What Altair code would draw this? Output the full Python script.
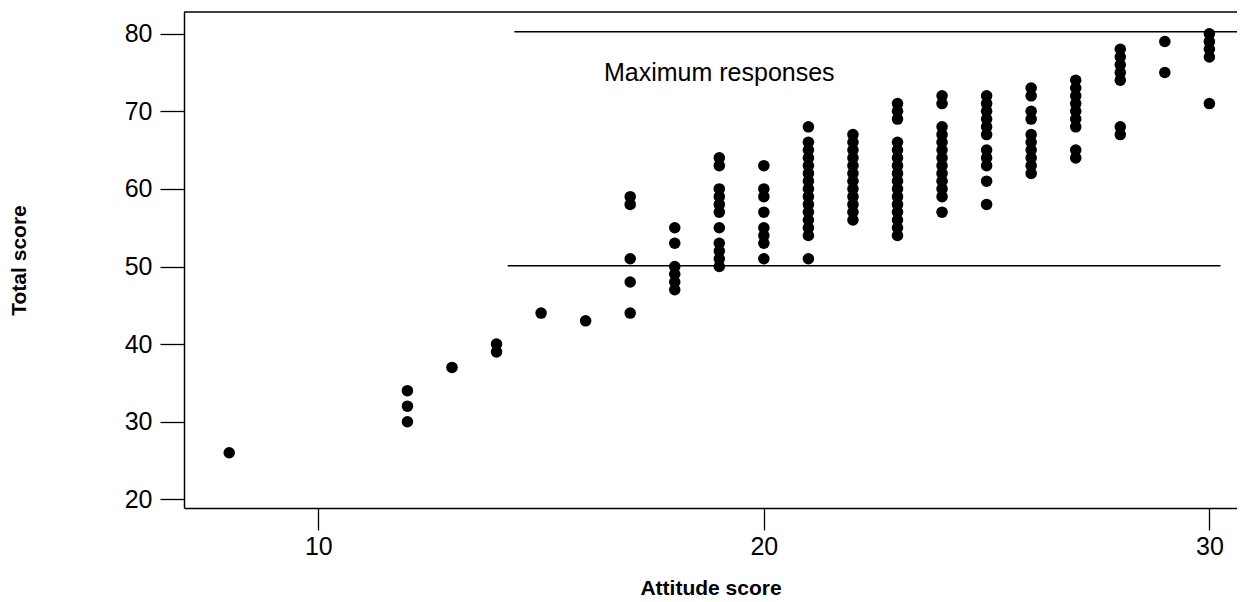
import altair as alt
import pandas as pd

# Attitude score columns and the total scores observed at each one
attitude_levels = [8, 12, 13, 14, 15, 16, 17, 18, 19, 20, 21, 22, 23, 24, 25, 26, 27, 28, 29, 30]
total_scores = [
    [26],
    [34, 32, 30],
    [37],
    [40, 39],
    [44],
    [43],
    [59, 58, 51, 48, 44],
    [55, 53, 50, 49, 48, 47],
    [64, 63, 60, 59, 58, 57, 55, 53, 52, 51, 50],
    [63, 60, 59, 57, 55, 54, 53, 51],
    [68, 66, 65, 64, 63, 62, 61, 60, 59, 58, 57, 56, 55, 54, 51],
    [67, 66, 65, 64, 63, 62, 61, 60, 59, 58, 57, 56],
    [71, 70, 69, 66, 65, 64, 63, 62, 61, 60, 59, 58, 57, 56, 55, 54],
    [72, 71, 68, 67, 66, 65, 64, 63, 62, 61, 60, 59, 57],
    [72, 71, 70, 69, 68, 67, 65, 64, 63, 61, 58],
    [73, 72, 70, 69, 67, 66, 65, 64, 63, 62],
    [74, 73, 72, 71, 70, 69, 68, 65, 64],
    [78, 77, 76, 75, 74, 68, 67],
    [79, 75],
    [80, 79, 78, 77, 71],
]

# Reference lines
ref_y = [80.25, 50.1]
ref_x_start = [14.4, 14.25]
ref_x_end = [30.62, 30.25]

# Annotation
note_text = ["Maximum responses"]
note_x = [19]
note_y = [75]

x_ticks = [10, 20, 30]
y_ticks = [20, 30, 40, 50, 60, 70, 80]

rows = []
for a, ts in zip(attitude_levels, total_scores):
    for t in ts:
        rows.append({"attitude": a, "total": t})
points_df = pd.DataFrame(rows)
lines_df = pd.DataFrame({"y": ref_y, "x": ref_x_start, "x2": ref_x_end})
note_df = pd.DataFrame({"text": note_text, "x": note_x, "y": note_y})

FONT = "Liberation Sans"
W, H = 1053, 496
xscale = alt.Scale(domain=[6.985, 30.62], nice=False, zero=False)
yscale = alt.Scale(domain=[18.88, 82.8], nice=False, zero=False)

xaxis = alt.Axis(
    values=x_ticks, title="Attitude score", grid=False,
    tickSize=22, tickColor="black", tickWidth=1.3,
    domainColor="black", domainWidth=1.5,
    labelFont=FONT, labelFontSize=25, labelColor="black", labelPadding=4,
    titleFont=FONT, titleFontSize=21, titleFontWeight="bold", titleColor="black",
    titleX=W / 2, titleY=80, titleBaseline="middle", titleAnchor="middle",
)
yaxis = alt.Axis(
    values=y_ticks, title="Total score", grid=False,
    tickSize=24, tickColor="black", tickWidth=1.3,
    domainColor="black", domainWidth=1.5,
    labelFont=FONT, labelFontSize=25, labelColor="black", labelPadding=8,
    titleFont=FONT, titleFontSize=21, titleFontWeight="bold", titleColor="black",
    titleX=-165, titleY=H / 2, titleAngle=-90, titleBaseline="middle", titleAlign="center",
)

points = alt.Chart(points_df).mark_circle(size=133, color="black", opacity=1).encode(
    x=alt.X("attitude:Q", scale=xscale, axis=xaxis),
    y=alt.Y("total:Q", scale=yscale, axis=yaxis),
)

lines = alt.Chart(lines_df).mark_rule(color="black", strokeWidth=1.4).encode(
    x=alt.X("x:Q", scale=xscale),
    x2="x2:Q",
    y=alt.Y("y:Q", scale=yscale),
)

note = alt.Chart(note_df).mark_text(
    font=FONT, fontSize=25, color="black", align="center", baseline="middle"
).encode(
    x=alt.X("x:Q", scale=xscale),
    y=alt.Y("y:Q", scale=yscale),
    text="text:N",
)

top_border = alt.Chart(note_df).mark_rule(color="black", strokeWidth=1.5).encode(
    x=alt.value(0), x2=alt.value(W), y=alt.value(0)
)

chart = alt.layer(top_border, lines, points, note).properties(
    width=W, height=H,
    autosize=alt.AutoSizeParams(type="none"),
    padding={"left": 176, "top": 4, "right": 0, "bottom": 92},
    background="white",
).configure_view(stroke=None)

chart.save("out.html", embed_options={"renderer": "svg", "actions": False})
